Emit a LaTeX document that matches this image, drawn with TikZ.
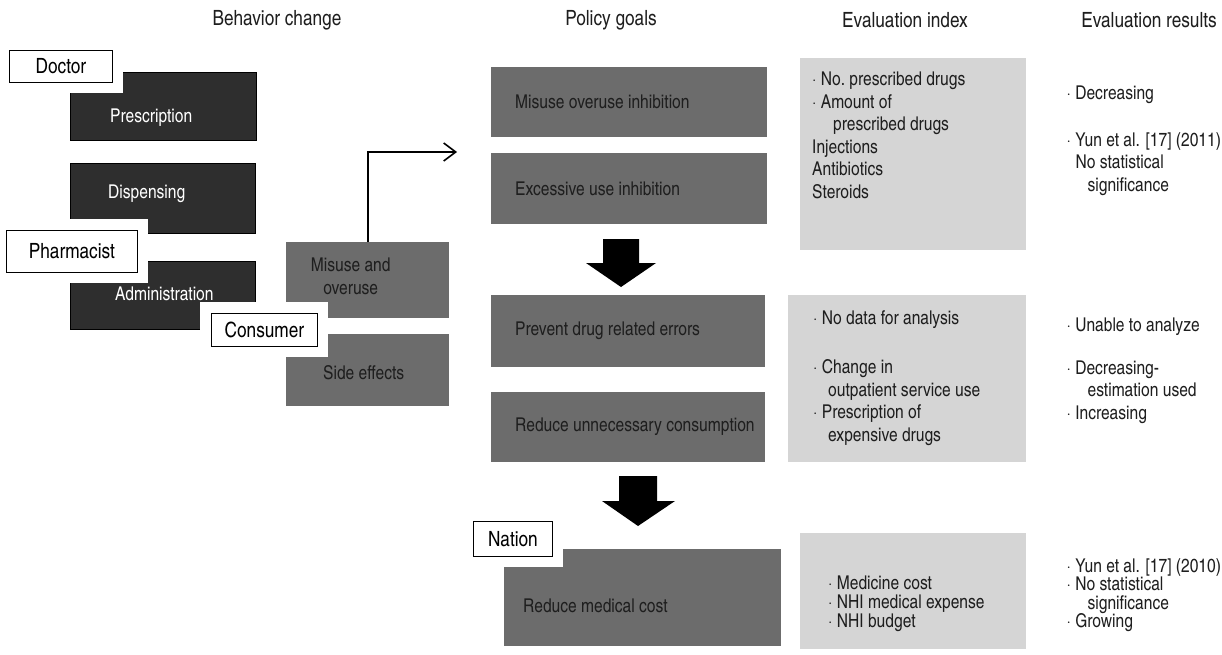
\documentclass[tikz,border=0pt]{standalone}
\usepackage{fontspec}
\setmainfont{texgyreheroscn-regular.otf}
\usetikzlibrary{positioning, arrows.meta}

\definecolor{darkgrey}{HTML}{2E2E2E}
\definecolor{midgrey}{HTML}{6C6C6C}
\definecolor{lightgrey}{HTML}{D5D5D5}
\definecolor{inkgrey}{HTML}{1E1E1E}

\begin{document}
\begin{tikzpicture}[x=1pt,y=-1pt]
  \tikzset{HeadStyle/.style = {
    font          = \fontsize{21}{25}\selectfont,
    text          = inkgrey,
    inner sep     = 0pt
    }
  }
  \tikzset{ActBox/.style = {
    shape         = rectangle,
    fill          = darkgrey,
    draw          = black,
    line width    = 0.8pt,
    anchor        = north west,
    inner sep     = 0pt
    }
  }
  \tikzset{GoalBox/.style = {
    shape         = rectangle,
    fill          = midgrey,
    anchor        = north west,
    inner sep     = 0pt
    }
  }
  \tikzset{IdxBox/.style = {
    shape         = rectangle,
    fill          = lightgrey,
    anchor        = north west,
    inner sep     = 0pt
    }
  }
  \tikzset{ActText/.style = {
    font          = \fontsize{19}{22.5}\selectfont,
    text          = white,
    inner sep     = 0pt
    }
  }
  \tikzset{GoalText/.style = {
    font          = \fontsize{19}{22.5}\selectfont,
    text          = inkgrey,
    align         = center,
    inner sep     = 0pt
    }
  }
  \tikzset{ListText/.style = {
    font          = \fontsize{19}{22.5}\selectfont,
    text          = inkgrey,
    align         = left,
    inner sep     = 0pt
    }
  }
  \tikzset{RoleTag/.style = {
    shape         = rectangle,
    draw          = black,
    line width    = 0.8pt,
    fill          = white,
    preaction     = {draw=white, line width=22pt},
    font          = \fontsize{21}{25}\selectfont,
    text          = black,
    anchor        = north west,
    inner sep     = 0pt
    }
  }
  \tikzset{FlowArrow/.style = {
    draw          = black,
    line width    = 1.6pt,
    -{Straight Barb[length=12pt, width=18pt]}
    }
  }

  \useasboundingbox (0,0) rectangle (1222,654);

  % column heads
  \node[HeadStyle] (head-behav) at (277,20) {Behavior change};
  \node[HeadStyle] (head-goal)  at (611,20) {Policy goals};
  \node[HeadStyle] (head-idx)   at (905,20) {Evaluation index};
  \node[HeadStyle] (head-res)   at (1149,20) {Evaluation results};

  % behavior change
  \node[ActBox, minimum width=186pt, minimum height=68pt] (presc) at (70,72) {};
  \node[ActBox, minimum width=185pt, minimum height=70pt] (disp)  at (70,163) {};
  \node[ActBox, minimum width=185pt, minimum height=68pt] (admin) at (70,261) {};
  \node[ActText, right=40pt of presc.west, yshift=-11pt] (presc-t) {Prescription};
  \node[ActText, right=38pt of disp.west, yshift=5pt]    (disp-t)  {Dispensing};
  \node[ActText, right=45pt of admin.west, yshift=2pt]   (admin-t) {Administration};

  \node[GoalBox, minimum width=163pt, minimum height=76pt] (misuse) at (286,242) {};
  \node[GoalBox, minimum width=163pt, minimum height=72pt] (side)   at (286,334) {};
  \node[GoalText, xshift=-17pt, yshift=4pt] (misuse-t) at (misuse.center) {Misuse and\\overuse};
  \node[GoalText, xshift=-4pt, yshift=-2pt] (side-t)   at (side.center) {Side effects};

  % policy goals
  \node[GoalBox, minimum width=276pt, minimum height=70pt] (goal1) at (491,67) {};
  \node[GoalBox, minimum width=276pt, minimum height=71pt] (goal2) at (491,153) {};
  \node[GoalBox, minimum width=274pt, minimum height=72pt] (goal3) at (491,295) {};
  \node[GoalBox, minimum width=274pt, minimum height=70pt] (goal4) at (491,392) {};
  \node[GoalBox, minimum width=277pt, minimum height=97pt] (goal5) at (504,549) {};
  \node[ListText, right=24pt of goal1.west] (goal1-t) {Misuse overuse inhibition};
  \node[ListText, right=24pt of goal2.west] (goal2-t) {Excessive use inhibition};
  \node[ListText, right=24pt of goal3.west] (goal3-t) {Prevent drug related errors};
  \node[ListText, right=24pt of goal4.west] (goal4-t) {Reduce unnecessary consumption};
  \node[ListText, right=19pt of goal5.west, yshift=-8pt] (goal5-t) {Reduce medical cost};

  \fill[black] (603,239) -- (639,239) -- (639,263) -- (656,263) -- (621,287)
    -- (586,263) -- (603,263) -- cycle;
  \fill[black] (619,476) -- (657,476) -- (657,501) -- (675,501) -- (638,526)
    -- (602,501) -- (619,501) -- cycle;

  \coordinate (aim) at (457,152);
  \draw[FlowArrow] (misuse.north) |- (aim);

  % evaluation index
  \node[IdxBox, minimum width=226pt, minimum height=192pt] (idx1) at (800,58) {};
  \node[IdxBox, minimum width=238pt, minimum height=167pt] (idx2) at (788,295) {};
  \node[IdxBox, minimum width=226pt, minimum height=116pt] (idx3) at (800,533) {};
  \node[ListText, anchor=north west, below right=14pt and 12pt of idx1.north west] (idx1-t)
    {· No.\ prescribed drugs\\
     · Amount of\\
     \hspace*{21pt}prescribed drugs\\
     Injections\\
     Antibiotics\\
     Steroids};
  \node[ListText, anchor=north west, below right=15pt and 25pt of idx2.north west] (idx2-t)
    {· No data for analysis\\[27pt]%
     · Change in\\
     \hspace*{15pt}outpatient service use\\
     · Prescription of\\
     \hspace*{15pt}expensive drugs};
  \node[ListText, font=\fontsize{19}{19}\selectfont, anchor=north west,
    below right=43pt and 28pt of idx3.north west] (idx3-t)
    {· Medicine cost\\
     · NHI medical expense\\
     · NHI budget};

  % evaluation results
  \node[ListText, below right=28pt and 40pt of idx1.north east] (res1-t)
    {· Decreasing\\[24pt]%
     · Yun et al. [17] (2011)\\
     \hspace*{9pt}No statistical\\
     \hspace*{21pt}significance};
  \node[ListText, below right=23pt and 40pt of idx2.north east] (res2-t)
    {· Unable to analyze\\[20pt]%
     · Decreasing-\\
     \hspace*{21pt}estimation used\\
     · Increasing};
  \node[ListText, font=\fontsize{19}{18.5}\selectfont,
    below right=25pt and 40pt of idx3.north east] (res3-t)
    {· Yun et al. [17] (2010)\\
     · No statistical\\
     \hspace*{21pt}significance\\
     · Growing};

  % roles
  \node[RoleTag, minimum width=103pt, minimum height=32pt] (doctor)   at (9,50)   {Doctor};
  \node[RoleTag, minimum width=131pt, minimum height=42pt] (pharm)    at (6,230)  {Pharmacist};
  \node[RoleTag, minimum width=106pt, minimum height=33pt] (consumer) at (211,313) {Consumer};
  \node[RoleTag, minimum width=79pt,  minimum height=35pt] (nation)   at (473,521) {Nation};
\end{tikzpicture}
\end{document}
